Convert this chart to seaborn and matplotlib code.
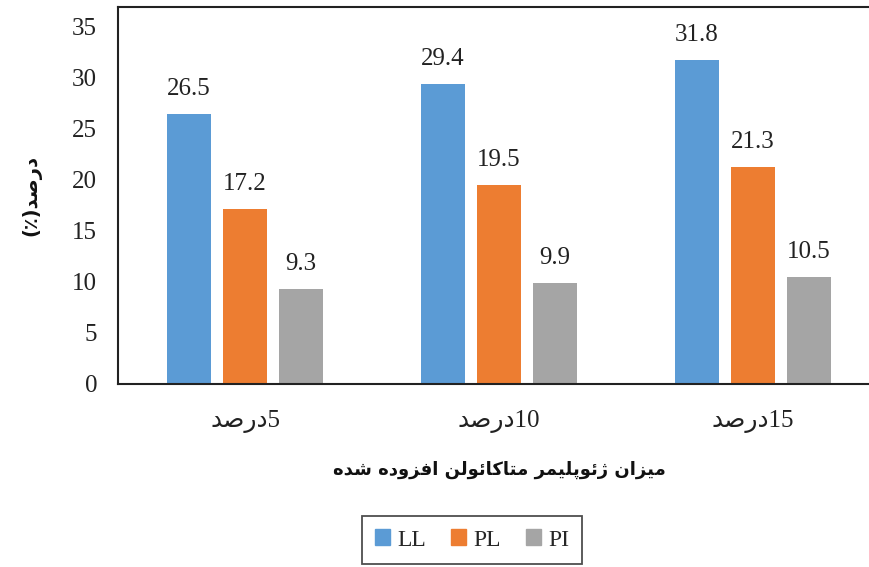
import matplotlib
matplotlib.use("Agg")
import matplotlib.pyplot as plt
import seaborn as sns
import pandas as pd

# ---------------- data ----------------
categories = ["5درصد", "10درصد", "15درصد"]
series_names = ["LL", "PL", "PI"]
LL = [26.5, 29.4, 31.8]
PL = [17.2, 19.5, 21.3]
PI = [9.3, 9.9, 10.5]
colors = ["#5B9BD5", "#ED7D31", "#A5A5A5"]
x_title = "میزان ژئوپلیمر متاکائولن افزوده شده"
y_title = "درصد(٪)"
y_ticks = [0, 5, 10, 15, 20, 25, 30, 35]

# ---------------- minimal Persian shaping (presentation forms + RTL order) ----------------
FORMS = {
    "ا": ("\uFE8D", "\uFE8E", None, None),
    "د": ("\uFEA9", "\uFEAA", None, None),
    "ر": ("\uFEAD", "\uFEAE", None, None),
    "ز": ("\uFEAF", "\uFEB0", None, None),
    "ژ": ("\uFB8A", "\uFB8B", None, None),
    "و": ("\uFEED", "\uFEEE", None, None),
    "ه": ("\uFEE9", "\uFEEA", "\uFEEB", "\uFEEC"),
    "ص": ("\uFEB9", "\uFEBA", "\uFEBB", "\uFEBC"),
    "م": ("\uFEE1", "\uFEE2", "\uFEE3", "\uFEE4"),
    "ی": ("\uFBFC", "\uFBFD", "\uFBFE", "\uFBFF"),
    "ن": ("\uFEE5", "\uFEE6", "\uFEE7", "\uFEE8"),
    "ئ": ("\uFE89", "\uFE8A", "\uFE8B", "\uFE8C"),
    "پ": ("\uFB56", "\uFB57", "\uFB58", "\uFB59"),
    "ل": ("\uFEDD", "\uFEDE", "\uFEDF", "\uFEE0"),
    "ت": ("\uFE95", "\uFE96", "\uFE97", "\uFE98"),
    "ک": ("\uFB8E", "\uFB8F", "\uFB90", "\uFB91"),
    "ف": ("\uFED1", "\uFED2", "\uFED3", "\uFED4"),
    "ش": ("\uFEB5", "\uFEB6", "\uFEB7", "\uFEB8"),
}
MIRROR = {"(": ")", ")": "("}


def shape(s):
    out = []
    for i, c in enumerate(s):
        if c not in FORMS:
            out.append(c)
            continue
        prev = s[i - 1] if i > 0 else None
        nxt = s[i + 1] if i + 1 < len(s) else None
        iso, fin, ini, med = FORMS[c]
        jp = prev in FORMS and FORMS[prev][2] is not None
        jn = nxt in FORMS and ini is not None
        if jp and jn:
            out.append(med)
        elif jp:
            out.append(fin)
        elif jn:
            out.append(ini)
        else:
            out.append(iso)
    return "".join(out)


def rtl(s):
    shaped = shape(s)
    runs, cur, cur_digit = [], "", None
    for c in shaped:
        d = c.isdigit() or c == "."
        if cur and d != cur_digit:
            runs.append((cur, cur_digit))
            cur = ""
        cur += c
        cur_digit = d
    if cur:
        runs.append((cur, cur_digit))
    vis = []
    for text, is_d in reversed(runs):
        if is_d:
            vis.append(text)
        else:
            vis.append("".join(MIRROR.get(ch, ch) for ch in reversed(text)))
    return "".join(vis)


# ---------------- plotting ----------------
sns.set_theme(style="white")
plt.rcParams["font.family"] = ["Liberation Serif", "DejaVu Sans"]

df = pd.DataFrame({
    "cat": categories * 3,
    "series": [n for n in series_names for _ in categories],
    "value": LL + PL + PI,
})

fig = plt.figure(figsize=(8.7, 5.67), dpi=100)
ax = fig.add_axes([118 / 870, 1 - 384 / 567, (880 - 118) / 870, (384 - 7) / 567])

sns.barplot(data=df, x="cat", y="value", hue="series", order=categories,
            hue_order=series_names, palette=colors, width=0.66, gap=0.214,
            linewidth=0, saturation=1, ax=ax, legend=True)

for cont in ax.containers:
    ax.bar_label(cont, fmt="%.1f", padding=10, fontsize=18, color="#222222",
                 family=["Liberation Serif", "DejaVu Sans"])

ax.set_ylim(0, 36.95)
ax.set_xlim(-0.5, 2.5)
ax.set_yticks(y_ticks)
ax.set_yticklabels([str(t) for t in y_ticks], fontsize=18, color="#222222")
ax.set_xticks(range(len(categories)))
ax.set_xticklabels([rtl(c) for c in categories], fontsize=18, color="#222222")
ax.tick_params(axis="both", length=0)
ax.tick_params(axis="y", pad=15)
ax.tick_params(axis="x", pad=19)

for sp in ax.spines.values():
    sp.set_color("#222222")
    sp.set_linewidth(1.5)

ax.set_xlabel(rtl(x_title), fontsize=13, fontweight="bold", labelpad=20,
              family=["DejaVu Sans"], color="#111111")
ax.set_ylabel(rtl(y_title), fontsize=14, fontweight="bold", labelpad=22,
              family=["DejaVu Sans"], color="#111111")

ax.legend_.remove()
handles = [plt.Rectangle((0, 0), 1, 1, color=c) for c in colors]
leg = fig.legend(handles, series_names, loc="center", bbox_to_anchor=(472 / 870, 1 - 540 / 567),
                 ncol=3, frameon=True, fontsize=17, handlelength=0.65, handleheight=0.65,
                 handletextpad=0.3, columnspacing=1.05, fancybox=False, borderpad=0.55)
leg.get_frame().set_edgecolor("#222222")
leg.get_frame().set_linewidth(1.3)

fig.savefig("out.png", dpi=100)
